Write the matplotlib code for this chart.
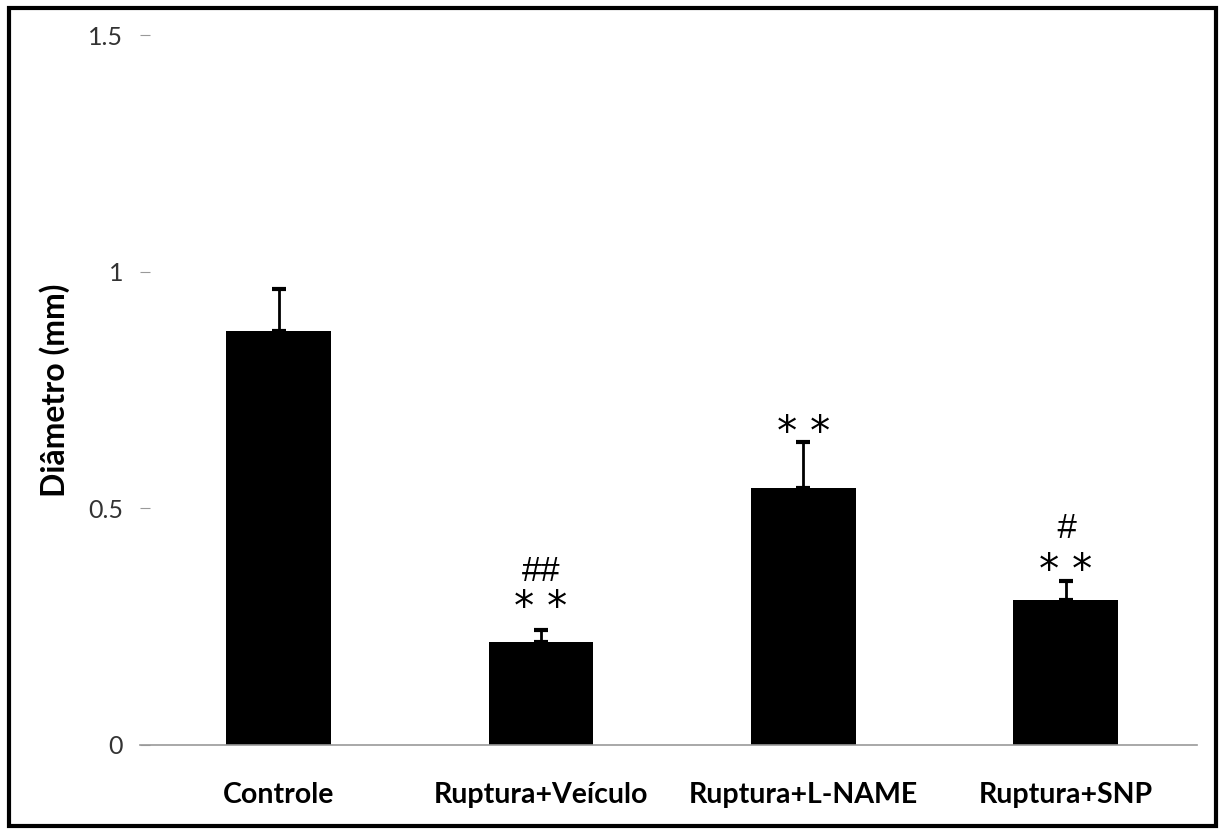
import matplotlib
matplotlib.use("Agg")
import matplotlib.pyplot as plt
from matplotlib.patches import Rectangle

# data
groups = ["Controle", "Ruptura+Veículo", "Ruptura+L-NAME", "Ruptura+SNP"]
diameter = [0.875, 0.218, 0.543, 0.307]
sem = [0.089, 0.025, 0.097, 0.040]
marks_top = ["", "##", "", "#"]
marks_star = ["", "* *", "* *", "* *"]
# heights (data units) where the significance marks sit
star_y = [None, 0.313, 0.683, 0.390]
hash_y = [None, 0.370, None, 0.461]

plt.rcParams['font.family'] = ['Lato', 'DejaVu Sans']

fig = plt.figure(figsize=(12.25, 8.34), dpi=100)
ax = fig.add_axes([0.114, 0.107, 0.863, 0.851])

x = range(len(groups))
ax.bar(x, diameter, width=0.4, color="black", zorder=2)
ax.errorbar(x, diameter, yerr=[[0] * len(sem), sem], fmt="none",
            ecolor="black", elinewidth=2, capsize=5, capthick=3, zorder=3)

# significance marks
for i in x:
    if marks_star[i]:
        # DejaVu asterisk sits ~0.59 em above baseline
        ax.text(i, star_y[i] - 0.049, marks_star[i], ha="center", va="baseline",
                fontsize=29, family="DejaVu Sans")
    if marks_top[i]:
        ax.text(i, hash_y[i] - 0.024, marks_top[i], ha="center", va="baseline",
                fontsize=25, family="Liberation Sans",
                style="italic" if marks_top[i] == "#" else "normal")

ax.set_xlim(-0.53, 3.5)
ax.set_ylim(0, 1.5)
ax.set_yticks([0, 0.5, 1, 1.5])
ax.set_yticklabels(["0", "0.5", "1", "1.5"])
ax.set_xticks(list(x))
ax.set_xticklabels(groups, fontsize=20.5, fontweight="bold")
ax.tick_params(axis="x", length=0, pad=27)
ax.tick_params(axis="y", direction="in", length=7, color="#999999",
               labelsize=18, labelcolor="#333333", pad=12)
for s in ["top", "right", "left"]:
    ax.spines[s].set_visible(False)
ax.spines["bottom"].set_color("#999999")
ax.spines["bottom"].set_linewidth(1.2)

ax.set_ylabel("Diâmetro (mm)", fontsize=23, fontweight="bold")
ax.yaxis.set_label_coords(-0.066, 0.5)

# frame around the whole figure
fig.patches.append(Rectangle((0.007, 0.009), 0.986, 0.982, transform=fig.transFigure,
                             fill=False, edgecolor="black", linewidth=3))

fig.savefig("out.png", dpi=100)
